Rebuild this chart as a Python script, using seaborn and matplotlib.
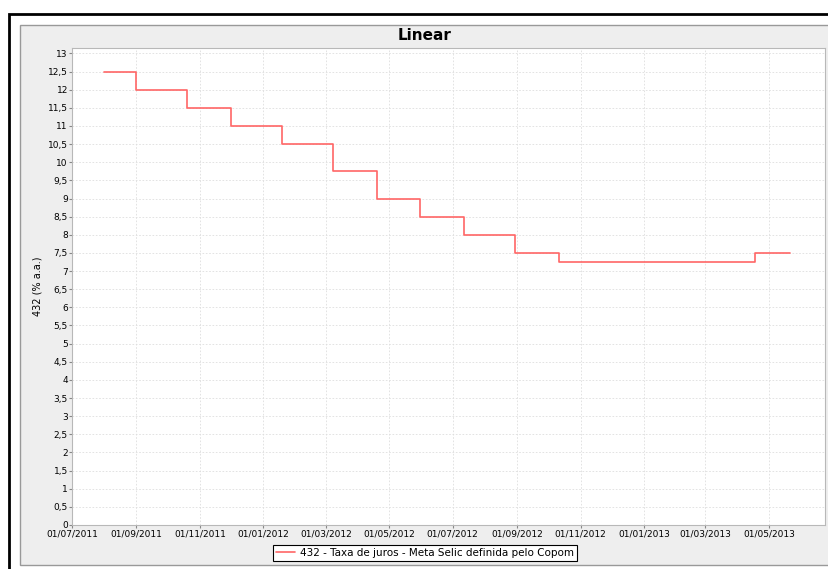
import pandas as pd
import matplotlib
matplotlib.use("Agg")
import matplotlib.pyplot as plt
import matplotlib.dates as mdates
from matplotlib.patches import Rectangle
from matplotlib.ticker import MultipleLocator, FuncFormatter
import seaborn as sns

# Meta Selic (Copom) - data de vigencia e taxa (% a.a.)
datas = ["2011-08-01", "2011-09-01", "2011-10-20", "2011-12-01", "2012-01-19",
         "2012-03-08", "2012-04-19", "2012-05-31", "2012-07-12", "2012-08-30",
         "2012-10-11", "2013-04-18", "2013-05-21"]
taxas = [12.5, 12.0, 11.5, 11.0, 10.5, 9.75, 9.0, 8.5, 8.0, 7.5, 7.25, 7.5, 7.5]
serie = "432 - Taxa de juros - Meta Selic definida pelo Copom"

df = pd.DataFrame({"data": pd.to_datetime(datas), "taxa": taxas, "serie": serie})

sns.set_style("white")
plt.rcParams["font.family"] = ["DejaVu Sans"]
plt.rcParams["text.color"] = "black"
plt.rcParams["axes.labelcolor"] = "black"
plt.rcParams["xtick.color"] = "black"
plt.rcParams["ytick.color"] = "black"

fig = plt.figure(figsize=(8.29, 5.69), dpi=100)
fig.patch.set_facecolor("white")
# outer frame and grey chart panel
fig.patches.append(Rectangle((9 / 829, -0.01), 1.0, 1 - 14 / 569 + 0.01, transform=fig.transFigure,
                             facecolor="white", edgecolor="black", lw=2, zorder=-10))
fig.patches.append(Rectangle((20 / 829, 4 / 569), 1.0, 1 - 29 / 569, transform=fig.transFigure,
                             facecolor="#eeeeee", edgecolor="#999999", lw=1, zorder=-9))

ax = fig.add_axes([72 / 829, 44 / 569, 753 / 829, 477 / 569])
ax.set_zorder(1)
ax.set_facecolor("white")

sns.lineplot(data=df, x="data", y="taxa", hue="serie", palette=["#ff6666"],
             drawstyle="steps-post", lw=1.2, ax=ax, legend=False)

ax.set_xlim(pd.Timestamp("2011-07-01"), pd.Timestamp("2013-06-24"))
ax.set_ylim(0, 13.15)
ax.yaxis.set_major_locator(MultipleLocator(0.5))
ax.yaxis.set_major_formatter(FuncFormatter(lambda v, p: f"{v:g}".replace(".", ",")))
ax.xaxis.set_major_locator(mdates.MonthLocator(bymonth=[1, 3, 5, 7, 9, 11]))
ax.xaxis.set_major_formatter(mdates.DateFormatter("%d/%m/%Y"))

ax.grid(True, color="#dedede", ls=(0, (2, 2)), lw=0.6)
for s in ax.spines.values():
    s.set_color("#b8b8b8")
    s.set_linewidth(0.8)
ax.tick_params(axis="both", labelsize=6.5, length=2, color="#888888", pad=1)
ax.tick_params(axis="y", left=True)
ax.tick_params(axis="x", bottom=True)
ax.set_xlabel("")
ax.set_ylabel("432 (% a.a.)", fontsize=7, labelpad=4)

fig.text(425 / 829, 1 - 35 / 569, "Linear", ha="center", va="center",
         fontsize=11, fontweight="bold", color="black")

handle = plt.Line2D([], [], color="#ff6666", lw=1.2)
leg = fig.legend([handle], [serie], loc="center", bbox_to_anchor=(425 / 829, 1 - 553 / 569),
                 fontsize=7.5, frameon=True, fancybox=False, handlelength=1.8,
                 borderpad=0.3, handletextpad=0.5, borderaxespad=0)
leg.get_frame().set_edgecolor("black")
leg.get_frame().set_linewidth(0.8)
leg.get_frame().set_facecolor("white")
leg.get_frame().set_alpha(1)

fig.savefig("out.png", dpi=100)
